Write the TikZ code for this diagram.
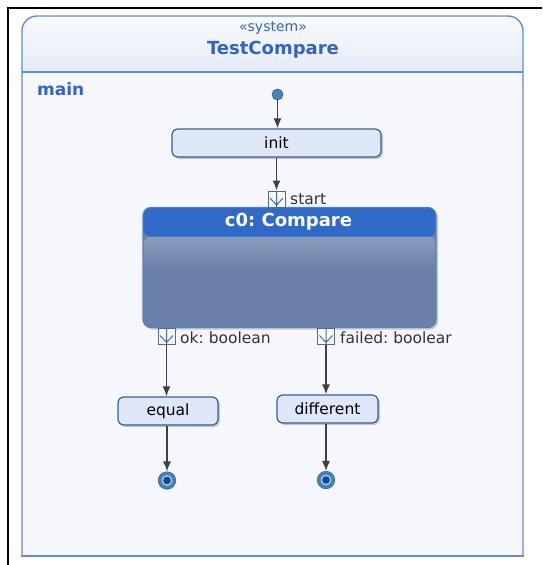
\documentclass[tikz,border=0pt]{standalone}
\usepackage{fontspec}
\setmainfont{DejaVu Sans}
\frenchspacing
\usetikzlibrary{arrows.meta,calc,shadows}
\definecolor{sysline}{RGB}{95,140,220}
\definecolor{systext}{RGB}{50,100,200}
\definecolor{sysbody}{RGB}{245,247,252}
\definecolor{syshead}{RGB}{218,228,246}
\definecolor{actfill}{RGB}{222,231,247}
\definecolor{actline}{RGB}{55,95,145}
\definecolor{cmphead}{RGB}{48,106,200}
\definecolor{cmpbody}{RGB}{106,128,168}
\definecolor{cmplight}{RGB}{140,156,190}
\definecolor{portline}{RGB}{80,110,140}
\definecolor{dotblue}{RGB}{70,130,190}
\definecolor{dotdark}{RGB}{15,75,140}
\newcommand{\regfont}{\fontsize{15.5}{18}\selectfont}
\newcommand{\boldfont}{\fontsize{18}{21}\selectfont\bfseries}
\tikzset{>={Latex[length=10pt,width=8pt]}}
\tikzset{
  flow/.style={->,draw=black!75,line width=1.4pt},
  act/.style={draw=actline,fill=actfill,line width=1.2pt,rounded corners=6pt,
    minimum height=28pt,inner sep=0pt,font=\regfont,
    drop shadow={shadow xshift=2pt,shadow yshift=-2pt,fill=black!40,opacity=.5}},
  portbox/.style={draw=portline,line width=1pt,fill=sysbody,minimum width=17pt,
    minimum height=16pt,inner sep=0pt,
    path picture={\draw[portline,line width=1pt]
      (path picture bounding box.north) -- (path picture bounding box.south)
      ($(path picture bounding box.west)+(2pt,1pt)$) -- ($(path picture bounding box.south)+(0,2pt)$)
      -- ($(path picture bounding box.east)+(-2pt,1pt)$);}},
  portlabel/.style={anchor=west,inner sep=0pt,font=\regfont,text=black!80},
  compbox/.style={draw=sysline!90!black,line width=1.2pt,rounded corners=8pt,
    minimum width=293pt,minimum height=120pt,inner sep=0pt,
    drop shadow={shadow xshift=2pt,shadow yshift=-2pt,fill=black!40,opacity=.5},
    path picture={
      \fill[cmpbody] (path picture bounding box.south west) rectangle (path picture bounding box.north east);
      \shade[top color=cmplight,bottom color=cmpbody]
        ($(path picture bounding box.north west)+(0,-29pt)$) rectangle ($(path picture bounding box.north east)+(0,-62pt)$);
      \fill[cmphead] (path picture bounding box.north west) rectangle ($(path picture bounding box.north east)+(0,-29pt)$);}},
  initdot/.style={circle,minimum size=11pt,inner sep=0pt,fill=dotblue,draw=dotblue!70!black,line width=.6pt},
  findot/.style={circle,minimum size=17.5pt,inner sep=0pt,fill=dotblue,draw=dotblue!80!black,line width=.6pt,
    path picture={
      \fill[white!55!dotblue] (path picture bounding box.center) circle (5.4pt);
      \fill[dotdark] (path picture bounding box.center) circle (3.8pt);}},
  systext/.style={text=systext,inner sep=0pt}
}

\begin{document}
\begin{tikzpicture}[x=1pt,y=-1pt]
  \useasboundingbox (0,0) rectangle (542,565);
  \draw[line width=2.5pt] (8,565) -- (8,8) -- (542,8);
  \shade[top color=sysbody!60!white,bottom color=syshead,rounded corners=15pt] (22,16) rectangle (523,100);
  \fill[sysbody] (22,72) rectangle (523,556);
  \draw[sysline,line width=1.4pt,rounded corners=15pt] (22,556) |- (272,16) -| (523,556);
  \draw[sysline,line width=1.4pt,line cap=rect] (22,556) -- (523,556);
  \draw[sysline,line width=1.4pt] (22,72) -- (523,72);
  \node[systext,font=\fontsize{14}{16}\selectfont] (stereo) at (273,28) {«system»};
  \node[systext,font=\boldfont] (sysname) at (273,50) {TestCompare};
  \node[systext,font=\fontsize{17}{20}\selectfont\bfseries,anchor=west] (region) at (37,89) {main};

  \node[initdot] (idot) at (277.5,94.5) {};
  \node[act,minimum width=209pt] (init) at (276.5,143) {init};
  \node[compbox] (c0) at (289.5,267.5) {};
  \node[text=white,font=\boldfont,inner sep=0pt] (c0title) at (288.5,222) {c0: Compare};
  \node[portbox] (pstart) at (276.5,199) {};
  \node[portbox] (pok) at (166.5,336.5) {};
  \node[portbox] (pfailed) at (326,336.5) {};
  \node[portlabel] (lstart) at (290,199) {start};
  \node[portlabel] (lok) at (180,338) {ok: boolean};
  \node[portlabel] (lfailed) at (340,338) {failed: boolear};
  \node[act,minimum width=100pt] (equal) at (168,411) {equal};
  \node[act,minimum width=101pt] (different) at (327.5,409) {different};
  \node[findot] (fin1) at (167,480.5) {};
  \node[findot] (fin2) at (326,480) {};

  \draw[flow] (idot) -- (idot |- init.north);
  \draw[flow] (pstart |- init.south) -- (pstart);
  \draw[flow] (pok) -- (pok |- equal.north);
  \draw[flow] (pfailed) -- (pfailed |- different.north);
  \draw[flow] (fin1 |- equal.south) -- (fin1);
  \draw[flow] (fin2 |- different.south) -- (fin2);
\end{tikzpicture}
\end{document}
